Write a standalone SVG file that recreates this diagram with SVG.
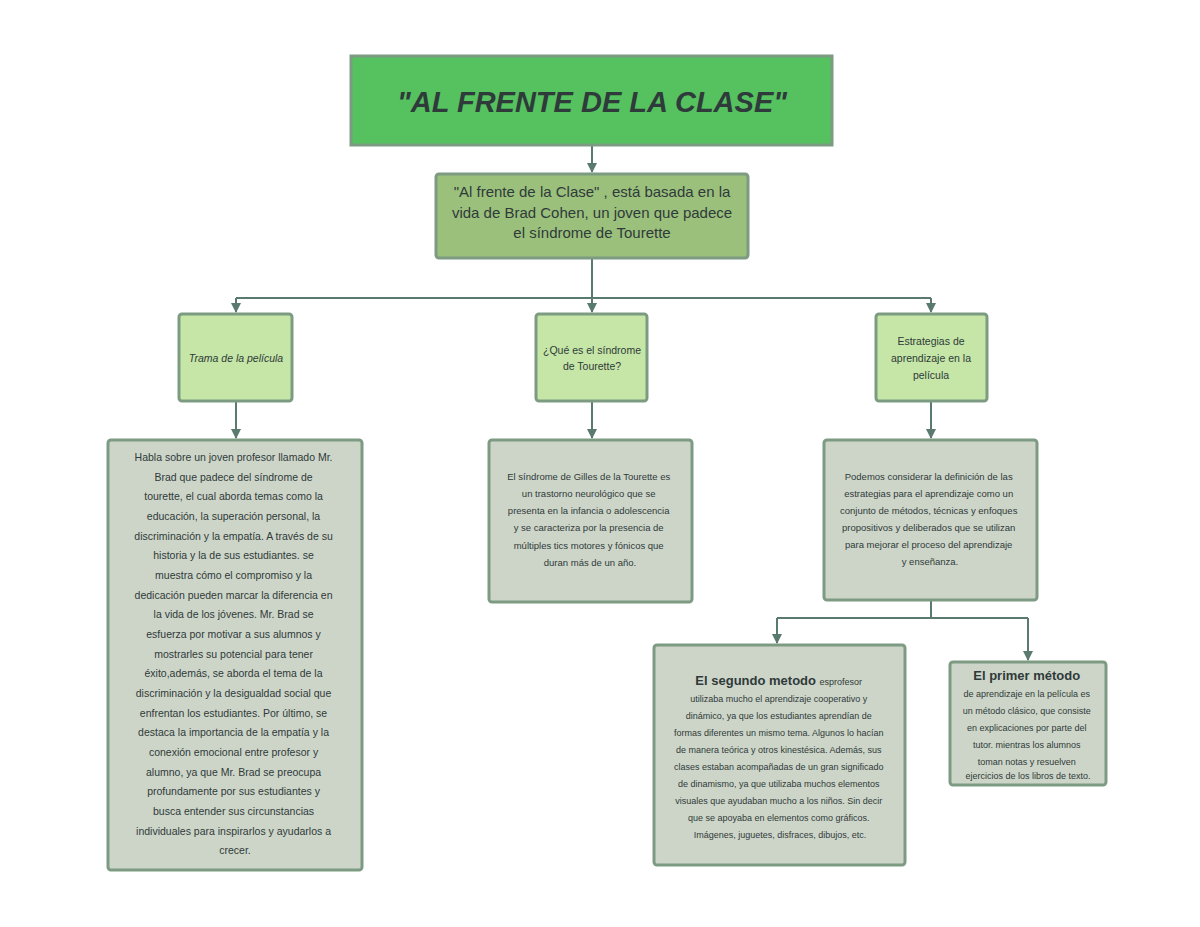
<svg xmlns="http://www.w3.org/2000/svg" width="1200" height="927" viewBox="0 0 1200 927">
<style>
.b{stroke:#7d9b82;stroke-width:3}
.t{font-family:"Liberation Sans",Arial,sans-serif;fill:#2f3a3a;text-anchor:middle}
.s{font-size:10.5px}
.c{stroke:#5a7a70;stroke-width:2;fill:none}
</style>
<defs><marker id="a" viewBox="0 0 10 10" refX="9" refY="5" markerWidth="5" markerHeight="5" orient="auto"><path d="M0,0L10,5L0,10z" fill="#5a7a70"/></marker></defs>
<rect width="1200" height="927" fill="#fff"/>
<g id="connectors">
<path class="c" d="M592,145V172" marker-end="url(#a)"/>
<path class="c" d="M592,258V298M236,298H931"/>
<path class="c" d="M236,298V312" marker-end="url(#a)"/>
<path class="c" d="M592,298V312" marker-end="url(#a)"/>
<path class="c" d="M931,298V312" marker-end="url(#a)"/>
<path class="c" d="M236,401V438" marker-end="url(#a)"/>
<path class="c" d="M592,401V438" marker-end="url(#a)"/>
<path class="c" d="M931,401V438" marker-end="url(#a)"/>
<path class="c" d="M931,600V618M777,618H1028"/>
<path class="c" d="M777,618V643" marker-end="url(#a)"/>
<path class="c" d="M1028,618V660" marker-end="url(#a)"/>
</g>
<g id="title"><rect x="351" y="56" width="481" height="89" fill="#55c15f" class="b"/><text x="592" y="112" class="t" style="font-size:29px;font-weight:bold;font-style:italic">"AL FRENTE DE LA CLASE"</text></g>
<g id="intro"><rect x="436" y="174" width="312" height="84" rx="3" fill="#9bc07c" class="b"/><text class="t" style="font-size:15px"><tspan x="592" y="197">"Al frente de la Clase" , está basada en la</tspan><tspan x="592" y="218">vida de Brad Cohen, un joven que padece</tspan><tspan x="592" y="238">el síndrome de Tourette</tspan></text></g>
<g id="trama"><rect x="179" y="314" width="113" height="87" rx="3" fill="#c5e6a6" class="b"/><text x="236" y="362" class="t s" style="font-style:italic">Trama de la película</text></g>
<g id="que"><rect x="536" y="314" width="111" height="87" rx="3" fill="#c5e6a6" class="b"/><text class="t s"><tspan x="592" y="354">¿Qué es el síndrome</tspan><tspan x="592" y="370">de Tourette?</tspan></text></g>
<g id="estr"><rect x="876" y="314" width="111" height="87" rx="3" fill="#c5e6a6" class="b"/><text class="t s"><tspan x="931" y="345">Estrategias de</tspan><tspan x="931" y="362">aprendizaje en la</tspan><tspan x="931" y="379">película</tspan></text></g>
<g id="habla"><rect x="108" y="440" width="254" height="430" rx="3" fill="#cdd5c8" class="b"/><text class="t s">
<tspan x="235" y="461">Habla sobre un joven profesor llamado Mr.</tspan>
<tspan x="235" y="481">Brad que padece del síndrome de</tspan>
<tspan x="235" y="500">tourette, el cual aborda temas como la</tspan>
<tspan x="235" y="520">educación, la superación personal, la</tspan>
<tspan x="235" y="540">discriminación y la empatía. A través de su</tspan>
<tspan x="235" y="559">historia y la de sus estudiantes. se</tspan>
<tspan x="235" y="579">muestra cómo el compromiso y la</tspan>
<tspan x="235" y="599">dedicación pueden marcar la diferencia en</tspan>
<tspan x="235" y="618">la vida de los jóvenes. Mr. Brad se</tspan>
<tspan x="235" y="638">esfuerza por motivar a sus alumnos y</tspan>
<tspan x="235" y="658">mostrarles su potencial para tener</tspan>
<tspan x="235" y="677">éxito,además, se aborda el tema de la</tspan>
<tspan x="235" y="697">discriminación y la desigualdad social que</tspan>
<tspan x="235" y="717">enfrentan los estudiantes. Por último, se</tspan>
<tspan x="235" y="736">destaca la importancia de la empatía y la</tspan>
<tspan x="235" y="756">conexión emocional entre profesor y</tspan>
<tspan x="235" y="776">alumno, ya que Mr. Brad se preocupa</tspan>
<tspan x="235" y="795">profundamente por sus estudiantes y</tspan>
<tspan x="235" y="815">busca entender sus circunstancias</tspan>
<tspan x="235" y="835">individuales para inspirarlos y ayudarlos a</tspan>
<tspan x="235" y="854">crecer.</tspan></text></g>
<g id="sindrome"><rect x="489" y="440" width="203" height="162" rx="3" fill="#cdd5c8" class="b"/><text class="t" style="font-size:9.5px">
<tspan x="590" y="480">El síndrome de Gilles de la Tourette es</tspan>
<tspan x="590" y="497">un trastorno neurológico que se</tspan>
<tspan x="590" y="514">presenta en la infancia o adolescencia</tspan>
<tspan x="590" y="531">y se caracteriza por la presencia de</tspan>
<tspan x="590" y="549">múltiples tics motores y fónicos que</tspan>
<tspan x="590" y="566">duran más de un año.</tspan></text></g>
<g id="podemos"><rect x="824" y="440" width="213" height="160" rx="3" fill="#cdd5c8" class="b"/><text class="t" style="font-size:9.5px">
<tspan x="930" y="480">Podemos considerar la definición de las</tspan>
<tspan x="930" y="497">estrategias para el aprendizaje como un</tspan>
<tspan x="930" y="514">conjunto de métodos, técnicas y enfoques</tspan>
<tspan x="930" y="531">propositivos y deliberados que se utilizan</tspan>
<tspan x="930" y="548">para mejorar el proceso del aprendizaje</tspan>
<tspan x="930" y="565">y enseñanza.</tspan></text></g>
<g id="segundo"><rect x="654" y="645" width="251" height="220" rx="3" fill="#cdd5c8" class="b"/><text class="t" style="font-size:9px">
<tspan x="780" y="685"><tspan style="font-size:13px;font-weight:bold">El segundo metodo </tspan>esprofesor</tspan>
<tspan x="780" y="702">utilizaba mucho el aprendizaje cooperativo y</tspan>
<tspan x="780" y="719">dinámico, ya que los estudiantes aprendían de</tspan>
<tspan x="780" y="736">formas diferentes un mismo tema. Algunos lo hacían</tspan>
<tspan x="780" y="753">de manera teórica y otros kinestésica. Además, sus</tspan>
<tspan x="780" y="770">clases estaban acompañadas de un gran significado</tspan>
<tspan x="780" y="787">de dinamismo, ya que utilizaba muchos elementos</tspan>
<tspan x="780" y="804">visuales que ayudaban mucho a los niños. Sin decir</tspan>
<tspan x="780" y="821">que se apoyaba en elementos como gráficos.</tspan>
<tspan x="780" y="838">Imágenes, juguetes, disfraces, dibujos, etc.</tspan></text></g>
<g id="primero"><rect x="950" y="662" width="156" height="123" rx="3" fill="#cdd5c8" class="b"/><text class="t" style="font-size:9px">
<tspan x="1028" y="680" style="font-size:13px;font-weight:bold">El primer método</tspan>
<tspan x="1028" y="697">de aprendizaje en la película es</tspan>
<tspan x="1028" y="714">un método clásico, que consiste</tspan>
<tspan x="1028" y="731">en explicaciones por parte del</tspan>
<tspan x="1028" y="748">tutor. mientras los alumnos</tspan>
<tspan x="1028" y="765">toman notas y resuelven</tspan>
<tspan x="1028" y="779">ejercicios de los libros de texto.</tspan></text></g>
</svg>
